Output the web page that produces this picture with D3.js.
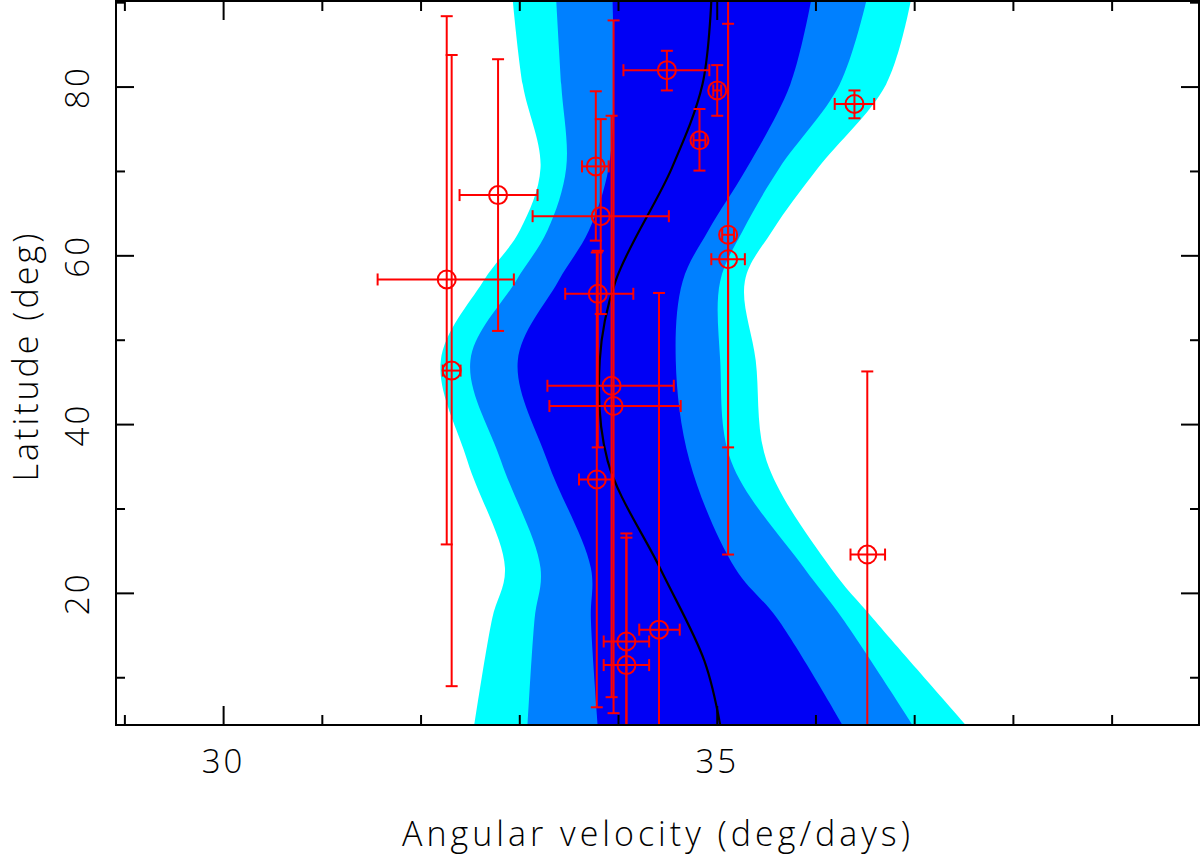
<!DOCTYPE html>
<html>
<head>
<meta charset="utf-8">
<script src="https://cdn.jsdelivr.net/npm/d3@7"></script>
<style>
  body { margin: 0; background: #fff; }
  text { font-family: "Open Sans", sans-serif; font-weight: 300; fill: #000; }
</style>
</head>
<body>
<div id="chart"></div>
<script>
// band boundaries (deg/days) at each latitude
const bandLat = [4.4, 17, 23, 35.7, 47.6, 57, 63, 70.4, 80.3, 90.2];
const outerLo = [32.54, 32.72, 32.85, 32.47, 32.20, 32.63, 33.00, 33.21, 33.03, 32.93];
const midLo   = [33.08, 33.15, 33.21, 32.81, 32.50, 32.96, 33.28, 33.47, 33.42, 33.37];
const innerLo = [33.79, 33.72, 33.72, 33.28, 32.98, 33.39, 33.70, 33.90, 33.95, 33.94];
const innerHi = [36.27, 35.61, 35.18, 34.72, 34.58, 34.65, 34.91, 35.30, 35.74, 35.95];
const midHi   = [36.98, 36.27, 35.88, 35.14, 35.03, 35.03, 35.26, 35.63, 36.24, 36.51];
const outerHi = [37.52, 36.58, 36.15, 35.50, 35.39, 35.28, 35.56, 36.02, 36.71, 36.96];

// best-fit curve
const fitLat = [4.4, 12, 23, 35.7, 47.6, 57, 70.4, 80.3, 90.2];
const fitVel = [35.03, 34.87, 34.42, 33.89, 33.81, 33.97, 34.54, 34.85, 34.94];

// measurements: velocity, latitude, velocity range, latitude range
const ptVel   = [32.26, 32.31, 32.78, 33.77, 33.82, 33.79, 33.93, 33.95, 33.78, 34.08, 34.08, 34.41, 34.49, 35.00, 34.82, 35.11, 35.11, 36.39, 36.52];
const ptLat   = [57.2, 46.4, 67.2, 70.6, 64.7, 55.5, 44.6, 42.2, 33.5, 14.3, 11.5, 15.7, 82.0, 79.6, 73.7, 62.5, 59.6, 78.0, 24.6];
const ptVelLo = [31.56, 32.22, 32.39, 33.63, 33.13, 33.46, 33.28, 33.30, 33.60, 33.85, 33.85, 34.21, 34.05, 34.96, 34.76, 35.05, 34.94, 36.19, 36.35];
const ptVelHi = [32.94, 32.40, 33.18, 33.90, 34.51, 34.15, 34.56, 34.63, 33.94, 34.31, 34.31, 34.62, 34.92, 35.04, 34.88, 35.17, 35.28, 36.59, 36.70];
const ptLatLo = [25.8, 9.0, 51.1, 61.8, 53.1, 37.3, 7.7, 5.8, 6.5, 2.0, 2.0, 2.0, 79.6, 76.6, 70.1, 37.3, 24.6, 76.3, 2.0];
const ptLatHi = [88.4, 83.8, 83.3, 79.5, 76.2, 60.6, 76.6, 87.9, 60.4, 27.1, 26.6, 55.6, 84.3, 82.6, 77.4, 87.5, 95.0, 79.6, 46.3];

const xTicks = [30, 35];
const yTicks = [20, 40, 60, 80];

const width = 1200, height = 859;
const margin = { top: 1, right: 1, bottom: 134, left: 116 };

const svg = d3.select('#chart').append('svg')
  .attr('width', width).attr('height', height);

const x = d3.scaleLinear().domain([28.91, 39.88]).range([margin.left, width - margin.right]);
const y = d3.scaleLinear().domain([4.4, 90.2]).range([height - margin.bottom, margin.top]);

svg.append('clipPath').attr('id', 'clip').append('rect')
  .attr('x', margin.left).attr('y', margin.top)
  .attr('width', width - margin.right - margin.left)
  .attr('height', height - margin.bottom - margin.top);

const plot = svg.append('g').attr('clip-path', 'url(#clip)');

const bands = [
  [outerLo, outerHi, '#00ffff'],
  [midLo, midHi, '#0080ff'],
  [innerLo, innerHi, '#0000f5']
];
bands.forEach(([lo, hi, col]) => {
  const area = d3.area()
    .y((d, i) => y(bandLat[i]))
    .x0((d, i) => x(lo[i]))
    .x1((d, i) => x(hi[i]))
    .curve(d3.curveCatmullRom.alpha(0.5));
  plot.append('path').datum(bandLat).attr('d', area).attr('fill', col);
});

plot.append('path')
  .datum(fitLat)
  .attr('d', d3.line().y(d => y(d)).x((d, i) => x(fitVel[i])).curve(d3.curveCatmullRom.alpha(0.5)))
  .attr('fill', 'none').attr('stroke', '#000').attr('stroke-width', 2.2);

const pts = plot.append('g').attr('stroke', '#ff0000').attr('stroke-width', 2).attr('fill', 'none');
const cap = 6;
ptVel.forEach((v, i) => {
  const cx = x(v), cy = y(ptLat[i]);
  const g = pts.append('g');
  g.append('line').attr('x1', x(ptVelLo[i])).attr('x2', x(ptVelHi[i])).attr('y1', cy).attr('y2', cy);
  g.append('line').attr('x1', x(ptVelLo[i])).attr('x2', x(ptVelLo[i])).attr('y1', cy - cap).attr('y2', cy + cap);
  g.append('line').attr('x1', x(ptVelHi[i])).attr('x2', x(ptVelHi[i])).attr('y1', cy - cap).attr('y2', cy + cap);
  g.append('line').attr('x1', cx).attr('x2', cx).attr('y1', y(ptLatLo[i])).attr('y2', y(ptLatHi[i]));
  g.append('line').attr('x1', cx - cap).attr('x2', cx + cap).attr('y1', y(ptLatLo[i])).attr('y2', y(ptLatLo[i]));
  g.append('line').attr('x1', cx - cap).attr('x2', cx + cap).attr('y1', y(ptLatHi[i])).attr('y2', y(ptLatHi[i]));
  g.append('circle').attr('cx', cx).attr('cy', cy).attr('r', 9);
});

// frame and ticks
const x0 = margin.left, x1 = width - margin.right, y0 = margin.top, y1 = height - margin.bottom;
svg.append('rect').attr('x', x0).attr('y', y0).attr('width', x1 - x0).attr('height', y1 - y0)
  .attr('fill', 'none').attr('stroke', '#000').attr('stroke-width', 2);

const tg = svg.append('g').attr('stroke', '#000').attr('stroke-width', 2);
d3.range(29, 40).forEach(v => {
  const len = v % 5 === 0 ? 19 : 10;
  tg.append('line').attr('x1', x(v)).attr('x2', x(v)).attr('y1', y1).attr('y2', y1 - len);
  tg.append('line').attr('x1', x(v)).attr('x2', x(v)).attr('y1', y0).attr('y2', y0 + len);
});
d3.range(10, 91, 10).forEach(v => {
  const len = v % 20 === 0 ? 18 : 9;
  tg.append('line').attr('x1', x0).attr('x2', x0 + len).attr('y1', y(v)).attr('y2', y(v));
  tg.append('line').attr('x1', x1).attr('x2', x1 - len).attr('y1', y(v)).attr('y2', y(v));
});

svg.append('g').selectAll('text').data(xTicks).join('text')
  .attr('x', d => x(d)).attr('y', 773).attr('text-anchor', 'middle')
  .attr('font-size', 33).attr('letter-spacing', 3).text(d => d);

svg.append('g').selectAll('text').data(yTicks).join('text')
  .attr('transform', d => `translate(89,${y(d)}) rotate(-90)`)
  .attr('text-anchor', 'middle').attr('font-size', 33).attr('letter-spacing', 3).text(d => d);

svg.append('text').attr('x', 658).attr('y', 846).attr('text-anchor', 'middle')
  .attr('font-size', 34).attr('letter-spacing', 4).text('Angular velocity (deg/days)');

svg.append('text').attr('transform', 'translate(38,356) rotate(-90)')
  .attr('text-anchor', 'middle').attr('font-size', 34).attr('letter-spacing', 3).text('Latitude (deg)');
</script>
</body>
</html>
